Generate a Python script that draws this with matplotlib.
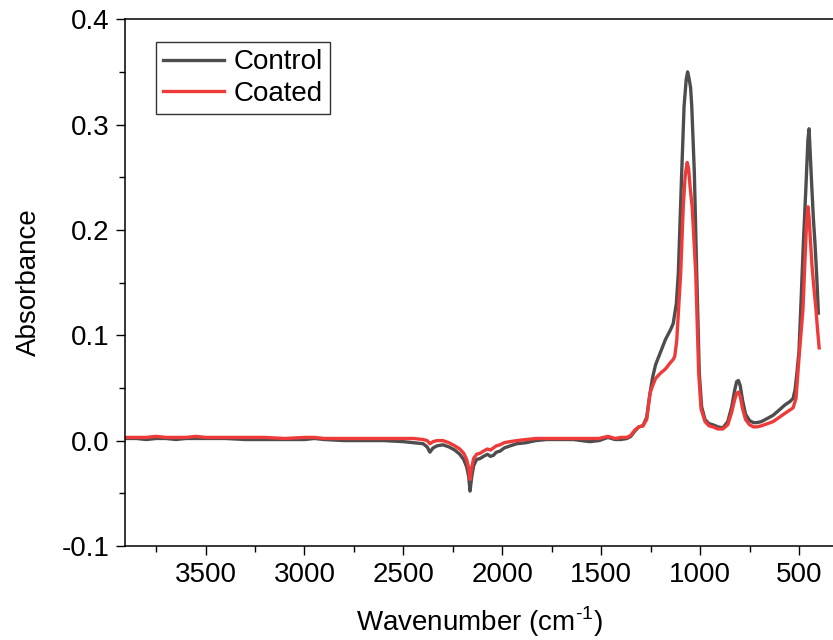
import numpy as np
import matplotlib
matplotlib.use('Agg')
import matplotlib.pyplot as plt

plt.rcParams['font.family'] = ['Liberation Sans', 'DejaVu Sans']
plt.rcParams['mathtext.fontset'] = 'custom'
plt.rcParams['mathtext.rm'] = 'Liberation Sans'

# FTIR spectra
wn_control = [3906, 3850, 3800, 3750, 3700, 3650, 3600, 3550, 3500, 3400, 3300, 3200, 3100,
              3000, 2950, 2900, 2800, 2700, 2600, 2500, 2450, 2400, 2380, 2366, 2350, 2330,
              2300, 2270, 2240, 2215, 2195, 2180, 2170, 2163, 2155, 2145, 2130, 2112, 2095,
              2075, 2060, 2045, 2030, 2011, 1990, 1960, 1927, 1880, 1830, 1776, 1700, 1640,
              1600, 1557, 1510, 1466, 1430, 1400, 1370, 1350, 1330, 1310, 1289, 1270, 1253,
              1240, 1225, 1200, 1175, 1150, 1136, 1120, 1110, 1093, 1081, 1070, 1063, 1056,
              1048, 1042, 1029, 1017, 1004, 992, 975, 955, 935, 910, 885, 860, 840, 825, 815,
              806, 797, 785, 770, 750, 730, 714, 690, 660, 631, 600, 570, 546, 530, 520, 510,
              500, 490, 478, 465, 455, 449, 443, 435, 427, 419, 410, 402]
abs_control = [0.002, 0.002, 0.001, 0.002, 0.002, 0.001, 0.002, 0.002, 0.002, 0.002, 0.001,
               0.001, 0.001, 0.001, 0.002, 0.001, 0.000, 0.000, 0.000, -0.001, -0.002, -0.003,
               -0.006, -0.011, -0.007, -0.005, -0.004, -0.006, -0.009, -0.013, -0.018, -0.025,
               -0.034, -0.048, -0.035, -0.024, -0.018, -0.017, -0.015, -0.013, -0.015, -0.014,
               -0.011, -0.010, -0.007, -0.005, -0.003, -0.002, 0.000, 0.001, 0.001, 0.001,
               0.000, -0.001, 0.000, 0.003, 0.001, 0.001, 0.002, 0.004, 0.009, 0.013, 0.014,
               0.022, 0.045, 0.060, 0.072, 0.084, 0.096, 0.105, 0.111, 0.130, 0.159, 0.254,
               0.317, 0.343, 0.350, 0.344, 0.335, 0.317, 0.254, 0.159, 0.064, 0.032, 0.020,
               0.016, 0.015, 0.013, 0.012, 0.018, 0.032, 0.048, 0.056, 0.057, 0.052, 0.038,
               0.025, 0.019, 0.017, 0.017, 0.018, 0.021, 0.024, 0.029, 0.034, 0.037, 0.040,
               0.048, 0.065, 0.085, 0.130, 0.187, 0.240, 0.285, 0.296, 0.272, 0.240, 0.210,
               0.187, 0.155, 0.121]

wn_coated = [3906, 3850, 3800, 3750, 3700, 3650, 3600, 3550, 3500, 3400, 3300, 3200, 3100,
             3000, 2950, 2900, 2800, 2700, 2600, 2500, 2450, 2400, 2380, 2366, 2350, 2330,
             2300, 2270, 2240, 2215, 2195, 2180, 2170, 2163, 2155, 2145, 2130, 2112, 2095,
             2075, 2060, 2045, 2030, 2011, 1990, 1960, 1927, 1880, 1830, 1776, 1700, 1640,
             1600, 1557, 1510, 1466, 1430, 1400, 1370, 1350, 1330, 1310, 1289, 1270, 1253,
             1240, 1225, 1200, 1175, 1150, 1136, 1128, 1118, 1098, 1085, 1075, 1065, 1058,
             1050, 1040, 1022, 1007, 995, 975, 955, 935, 910, 885, 860, 840, 825, 815, 806,
             797, 785, 770, 750, 730, 714, 690, 660, 631, 600, 570, 546, 530, 515, 498, 480,
             470, 462, 455, 449, 442, 435, 427, 414, 406, 398]
abs_coated = [0.003, 0.003, 0.003, 0.004, 0.003, 0.003, 0.003, 0.004, 0.003, 0.003, 0.003,
              0.003, 0.002, 0.003, 0.003, 0.002, 0.002, 0.002, 0.002, 0.002, 0.002, 0.001,
              0.000, -0.003, -0.001, 0.000, 0.000, -0.002, -0.005, -0.008, -0.012, -0.018,
              -0.026, -0.037, -0.026, -0.017, -0.013, -0.012, -0.010, -0.008, -0.009, -0.007,
              -0.005, -0.004, -0.002, -0.001, 0.000, 0.001, 0.002, 0.002, 0.002, 0.002,
              0.002, 0.002, 0.002, 0.004, 0.002, 0.003, 0.003, 0.005, 0.010, 0.013, 0.014,
              0.020, 0.045, 0.052, 0.059, 0.064, 0.068, 0.074, 0.077, 0.080, 0.095, 0.159,
              0.222, 0.252, 0.264, 0.258, 0.240, 0.222, 0.159, 0.064, 0.030, 0.018, 0.014,
              0.013, 0.011, 0.011, 0.015, 0.027, 0.039, 0.045, 0.046, 0.042, 0.030, 0.020,
              0.015, 0.013, 0.013, 0.014, 0.016, 0.018, 0.022, 0.026, 0.029, 0.031, 0.040,
              0.083, 0.124, 0.170, 0.205, 0.222, 0.212, 0.190, 0.168, 0.150, 0.124, 0.105,
              0.088]

fig = plt.figure(figsize=(8.33, 6.4), dpi=100)
ax = fig.add_axes([0.1504, 0.147, 0.8496, 0.823])

ax.plot(wn_control, abs_control, color='#4d4d4d', lw=2.4, label='Control')
ax.plot(wn_coated, abs_coated, color='#ef3a3a', lw=2.4, label='Coated')

ax.set_xlim(3906, 328)
ax.set_ylim(-0.1, 0.4)
ax.set_xticks([3500, 3000, 2500, 2000, 1500, 1000, 500])
ax.set_xticks(np.arange(3750, 300, -500), minor=True)
ax.set_yticks([-0.1, 0.0, 0.1, 0.2, 0.3, 0.4])
ax.set_yticks([-0.05, 0.05, 0.15, 0.25, 0.35], minor=True)
ax.set_yticklabels(['-0.1', '0.0', '0.1', '0.2', '0.3', '0.4'])

ax.spines['right'].set_visible(False)
for s in ['left', 'bottom', 'top']:
    ax.spines[s].set_linewidth(1.1)
ax.tick_params(which='major', direction='out', length=6.5, width=1.0, labelsize=20)
ax.tick_params(which='minor', direction='out', length=4.5, width=1.0)
ax.tick_params(axis='x', which='major', pad=5)
ax.tick_params(axis='y', which='major', pad=5)

ax.set_xlabel('Wavenumber (cm$^{\\text{-}1}$)', fontsize=20, labelpad=12)
ax.set_ylabel('Absorbance', fontsize=20, labelpad=14)

leg = ax.legend(loc='upper left', bbox_to_anchor=(0.043, 0.956), borderaxespad=0,
                fontsize=20, frameon=True, fancybox=False, handlelength=2.2,
                handletextpad=0.35, borderpad=0.25, labelspacing=0.2)
leg.get_frame().set_edgecolor('black')
leg.get_frame().set_linewidth(1.0)

plt.savefig('out.png', dpi=100)
